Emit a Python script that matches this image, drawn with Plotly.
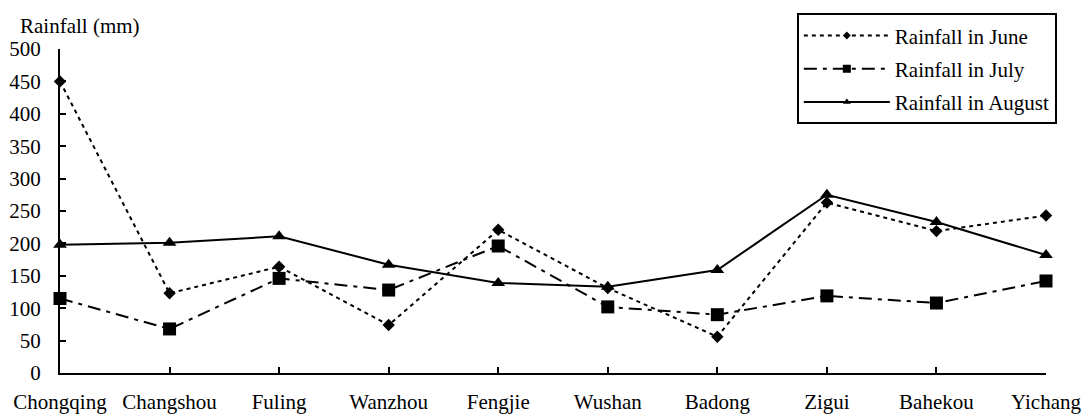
import plotly.graph_objects as go

stations = ["Chongqing", "Changshou", "Fuling", "Wanzhou", "Fengjie",
            "Wushan", "Badong", "Zigui", "Bahekou", "Yichang"]
rain_june = [450, 123, 164, 74, 221, 131, 56, 263, 219, 243]
rain_july = [115, 68, 146, 128, 196, 102, 90, 119, 108, 142]
rain_august = [198, 201, 211, 167, 139, 133, 159, 275, 233, 182]
y_ticks = [0, 50, 100, 150, 200, 250, 300, 350, 400, 450, 500]

FONT = "Liberation Serif, Times New Roman, Times, serif"
FS = 21
x_idx = list(range(len(stations)))

# name, values, dash, symbol, marker size on plot, marker size in legend
series = [
    ("Rainfall in June", rain_june, "4px,4px", "diamond", 9.5, 6),
    ("Rainfall in July", rain_july, "13px,6px,4px,6px", "square", 13, 8),
    ("Rainfall in August", rain_august, "solid", "triangle-up", 12, 7),
]

fig = go.Figure()
for name, vals, dash, symbol, msize, lsize in series:
    fig.add_trace(go.Scatter(
        x=x_idx, y=vals, mode="lines+markers", name=name, showlegend=False,
        line=dict(color="black", width=2, dash=dash),
        marker=dict(symbol=symbol, size=msize, color="black"),
        cliponaxis=False,
    ))
    # legend entry drawn with a smaller marker
    fig.add_trace(go.Scatter(
        x=[None], y=[None], mode="lines+markers", name=name, legendgroup=name,
        line=dict(color="black", width=2, dash=dash),
        marker=dict(symbol=symbol, size=lsize, color="black"),
    ))

fig.update_layout(
    width=1086, height=414,
    margin=dict(l=60, r=40, t=49, b=41, autoexpand=False),
    plot_bgcolor="white", paper_bgcolor="white",
    font=dict(family=FONT, size=FS, color="black"),
    showlegend=True,
    legend=dict(
        x=1.011, xanchor="right", y=1.11, yanchor="top",
        bordercolor="black", borderwidth=2, bgcolor="white",
        itemwidth=86, tracegroupgap=3, traceorder="grouped",
        font=dict(family=FONT, size=FS, color="black"),
    ),
    xaxis=dict(
        range=[0, 9], tickmode="array", tickvals=x_idx, ticktext=stations,
        showgrid=False, zeroline=False, showline=True, linecolor="black",
        linewidth=2, ticks="inside", ticklen=6, tickwidth=2, tickcolor="black",
        ticklabelstandoff=9, automargin=False,
    ),
    yaxis=dict(
        range=[0, 500], tickmode="array", tickvals=y_ticks,
        showgrid=False, zeroline=False, showline=True, linecolor="black",
        linewidth=2, ticks="inside", ticklen=6, tickwidth=2, tickcolor="black",
        ticklabelstandoff=13, automargin=False,
    ),
    annotations=[dict(
        text="Rainfall (mm)", xref="paper", yref="paper",
        x=-0.0426, y=1.072, xanchor="left", yanchor="middle",
        showarrow=False, font=dict(family=FONT, size=FS, color="black"),
    )],
)

fig.write_html("out.html")
